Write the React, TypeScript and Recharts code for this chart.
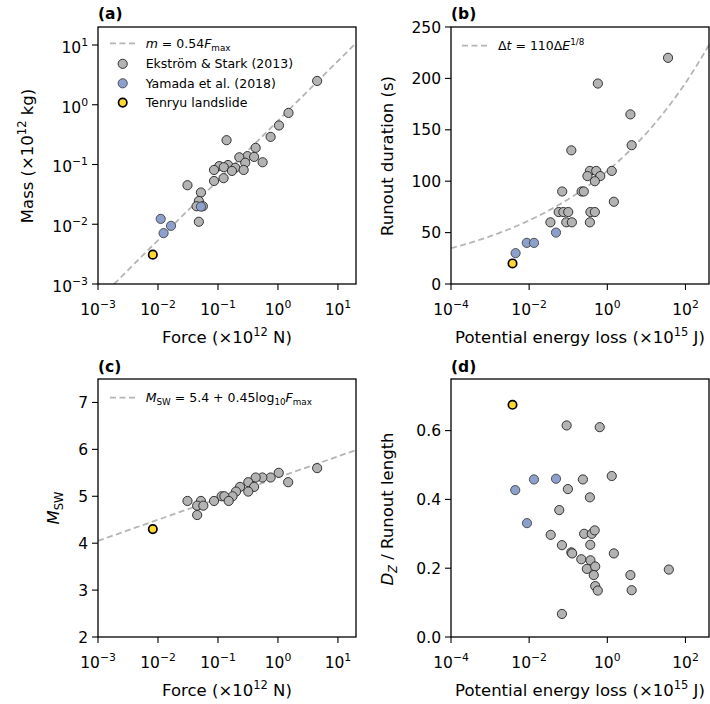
import React from "react";
import { ScatterChart, Scatter, XAxis, YAxis } from "recharts";

const FONT = "DejaVu Sans";
const GRAY = "#b3b3b3";
const BLUE = "#8da0cb";
const YELLOW = "#ffd92f";
const FIT = "#b5b5b5";

// (a) force vs mass, (c) force vs M_SW  (x 10^12 N, x 10^12 kg)
const esForceA = [4.5, 1.5, 1.04, 0.755, 0.139, 0.425, 0.31, 0.4, 0.227, 0.555, 0.285, 0.105, 0.147, 0.194, 0.125, 0.086, 0.268, 0.171, 0.124, 0.086, 0.031, 0.052, 0.048, 0.044, 0.056, 0.048];
const esMassA = [2.5, 0.73, 0.45, 0.29, 0.255, 0.19, 0.138, 0.134, 0.132, 0.109, 0.107, 0.094, 0.098, 0.088, 0.09, 0.081, 0.081, 0.078, 0.059, 0.053, 0.045, 0.034, 0.0245, 0.02, 0.02, 0.011];
const yamForceA = [0.0111, 0.0165, 0.0124, 0.052];
const yamMassA = [0.0123, 0.0094, 0.0071, 0.0197];
const tenForce = [0.0082];
const tenMass = [0.0031];

const esForceC = [4.5, 1.48, 1.03, 0.755, 0.55, 0.425, 0.32, 0.4, 0.233, 0.32, 0.2, 0.175, 0.115, 0.128, 0.151, 0.086, 0.031, 0.052, 0.045, 0.057, 0.045];
const esMswC = [5.6, 5.3, 5.5, 5.4, 5.4, 5.4, 5.3, 5.2, 5.2, 5.1, 5.1, 5.0, 5.0, 5.0, 4.9, 4.9, 4.9, 4.9, 4.8, 4.8, 4.6];
const tenMsw = [4.3];

// (b) energy vs duration, (d) energy vs Dz / runout length  (x 10^15 J)
const esEnergyB = [35.8, 0.573, 3.9, 4.2, 0.12, 1.3, 0.358, 0.52, 0.31, 0.66, 0.48, 0.07, 0.22, 0.25, 1.47, 0.057, 0.075, 0.1, 0.37, 0.48, 0.035, 0.089, 0.124, 0.358];
const esDurB = [220, 195, 165, 135, 130, 110, 110, 110, 105, 105, 100, 90, 90, 90, 80, 70, 70, 70, 70, 70, 60, 60, 60, 60];
const yamEnergyB = [0.0486, 0.0087, 0.0133, 0.0045];
const yamDurB = [50, 40, 40, 30];
const tenEnergy = [0.00375];
const tenDur = [20];

const esEnergyD = [0.091, 0.64, 1.3, 0.237, 0.098, 0.358, 0.059, 0.0356, 0.255, 0.4, 0.475, 0.366, 0.069, 0.12, 0.126, 1.47, 0.216, 0.37, 0.3, 0.49, 0.45, 0.49, 0.57, 3.9, 4.2, 37.5, 0.069];
const esRatioD = [0.615, 0.61, 0.468, 0.458, 0.43, 0.406, 0.369, 0.297, 0.3, 0.3, 0.31, 0.268, 0.267, 0.246, 0.243, 0.243, 0.226, 0.223, 0.198, 0.205, 0.18, 0.148, 0.135, 0.18, 0.136, 0.196, 0.067];
const yamEnergyD = [0.0044, 0.0133, 0.0486, 0.0088];
const yamRatioD = [0.427, 0.458, 0.46, 0.331];
const tenRatio = [0.675];

const forceTicks = [1e-3, 1e-2, 1e-1, 1, 10];
const massTicks = [1e-3, 1e-2, 1e-1, 1, 10];
const energyTicks = [1e-4, 1e-2, 1, 100];
const durTicks = [0, 50, 100, 150, 200, 250];
const mswTicks = [2, 3, 4, 5, 6, 7];
const ratioTicks = [0, 0.2, 0.4, 0.6];

const zip = (xs: number[], ys: number[]) => xs.map((x, i) => ({ x, y: ys[i] }));

// fit lines from the legend formulas
const fitA = [1e-3 / 0.54, 20].map((f) => ({ x: f, y: 0.54 * f }));
const fitB = Array.from({ length: 61 }, (_, i) => {
  const e = Math.pow(10, -4 + (i * Math.log10(4e6)) / 60);
  return { x: e, y: 110 * Math.pow(e, 1 / 8) };
});
const fitC = [1e-3, 20].map((f) => ({ x: f, y: 5.4 + 0.45 * Math.log10(f) }));

const dot = (fill: string, stroke: string, sw: number, r: number) => (p: any) =>
  <circle cx={p.cx} cy={p.cy} r={r} fill={fill} stroke={stroke} strokeWidth={sw} />;
const grayDot = dot(GRAY, "#222", 0.9, 4.6);
const blueDot = dot(BLUE, "#333", 0.8, 4.6);
const yellowDot = dot(YELLOW, "#000", 1.7, 4.2);
const noDot = () => <g />;

const expText = (v: number) => {
  const e = Math.round(Math.log10(v));
  return e < 0 ? "\u2212" + -e : String(e);
};

const LogTickX = (p: any) => (
  <text x={p.x} y={p.y + 21} textAnchor="middle" fontFamily={FONT} fontSize={15.5} fill="#000">
    <tspan>10</tspan>
    <tspan dy={-7} fontSize={10.8}>{expText(p.payload.value)}</tspan>
  </text>
);
const LogTickY = (p: any) => (
  <text x={p.x} y={p.y + 8} textAnchor="end" fontFamily={FONT} fontSize={15.5} fill="#000">
    <tspan>10</tspan>
    <tspan dy={-7} fontSize={10.8}>{expText(p.payload.value)}</tspan>
  </text>
);
const LinTickY = (digits: number) => (p: any) => (
  <text x={p.x} y={p.y + 5.5} textAnchor="end" fontFamily={FONT} fontSize={15.5} fill="#000">
    {p.payload.value.toFixed(digits)}
  </text>
);

const tickLine = { stroke: "#000", strokeWidth: 1.1 };

function Panel(props: any) {
  const { left, top, width, height, margin, yWidth, xDomain, xTicks, yDomain, yTicks, yLog, yTick, fit, gray, blue, yellow } = props;
  return (
    <div style={{ position: "absolute", left, top }}>
      <ScatterChart width={width} height={height} margin={margin}>
        <XAxis type="number" dataKey="x" scale="log" domain={xDomain} allowDataOverflow ticks={xTicks} interval={0}
          axisLine={false} tickLine={tickLine} tickSize={6} tickMargin={4} height={40} tick={LogTickX} />
        <YAxis type="number" dataKey="y" scale={yLog ? "log" : "linear"} domain={yDomain} allowDataOverflow ticks={yTicks}
          interval={0} axisLine={false} tickLine={tickLine} tickSize={6} tickMargin={4} width={yWidth}
          tick={yLog ? LogTickY : yTick} />
        {fit && (
          <Scatter data={fit} shape={noDot} isAnimationActive={false}
            line={{ stroke: FIT, strokeWidth: 1.8, strokeDasharray: "6 3.5" }} />
        )}
        <Scatter data={gray} shape={grayDot} isAnimationActive={false} />
        {blue && <Scatter data={blue} shape={blueDot} isAnimationActive={false} />}
        <Scatter data={yellow} shape={yellowDot} isAnimationActive={false} />
      </ScatterChart>
    </div>
  );
}

const txt = { fontFamily: FONT, fill: "#000" };

export default function App() {
  return (
    <div style={{ position: "absolute", left: 0, top: 0, width: 710, height: 704, background: "#fff", overflow: "hidden" }}>
      <Panel left={0} top={0} width={360} height={350} margin={{ top: 27, right: 4, left: 8, bottom: 26 }} yWidth={90}
        xDomain={[1e-3, 20]} xTicks={forceTicks} yDomain={[1e-3, 20]} yTicks={massTicks} yLog
        fit={fitA} gray={zip(esForceA, esMassA)} blue={zip(yamForceA, yamMassA)} yellow={zip(tenForce, tenMass)} />
      <Panel left={360} top={0} width={350} height={350} margin={{ top: 27, right: 1, left: 31, bottom: 26 }} yWidth={60}
        xDomain={[1e-4, 400]} xTicks={energyTicks} yDomain={[0, 250]} yTicks={durTicks} yTick={LinTickY(0)}
        fit={fitB} gray={zip(esEnergyB, esDurB)} blue={zip(yamEnergyB, yamDurB)} yellow={zip(tenEnergy, tenDur)} />
      <Panel left={0} top={350} width={360} height={354} margin={{ top: 29, right: 4, left: 8, bottom: 27 }} yWidth={90}
        xDomain={[1e-3, 20]} xTicks={forceTicks} yDomain={[2, 7.5]} yTicks={mswTicks} yTick={LinTickY(0)}
        fit={fitC} gray={zip(esForceC, esMswC)} yellow={zip(tenForce, tenMsw)} />
      <Panel left={360} top={350} width={350} height={354} margin={{ top: 29, right: 1, left: 31, bottom: 27 }} yWidth={60}
        xDomain={[1e-4, 400]} xTicks={energyTicks} yDomain={[0, 0.75]} yTicks={ratioTicks} yTick={LinTickY(1)}
        gray={zip(esEnergyD, esRatioD)} blue={zip(yamEnergyD, yamRatioD)} yellow={zip(tenEnergy, tenRatio)} />

      <svg width={710} height={704} style={{ position: "absolute", left: 0, top: 0, pointerEvents: "none" }}>
        {/* frames */}
        <rect x={98} y={27} width={258} height={257} fill="none" stroke="#000" strokeWidth={1.3} />
        <rect x={451} y={27} width={258} height={257} fill="none" stroke="#000" strokeWidth={1.3} />
        <rect x={98} y={379} width={258} height={258} fill="none" stroke="#000" strokeWidth={1.3} />
        <rect x={451} y={379} width={258} height={258} fill="none" stroke="#000" strokeWidth={1.3} />

        {/* panel letters */}
        <text x={98} y={19} fontSize={15.5} fontWeight="bold" {...txt}>(a)</text>
        <text x={451} y={19} fontSize={15.5} fontWeight="bold" {...txt}>(b)</text>
        <text x={98} y={371.5} fontSize={15.5} fontWeight="bold" {...txt}>(c)</text>
        <text x={451} y={371.5} fontSize={15.5} fontWeight="bold" {...txt}>(d)</text>

        {/* axis titles */}
        <text x={227} y={343} textAnchor="middle" fontSize={16.5} {...txt}>
          Force (×10<tspan dy={-7} fontSize={11.5}>12</tspan><tspan dy={7}> N)</tspan>
        </text>
        <text x={227} y={696} textAnchor="middle" fontSize={16.5} {...txt}>
          Force (×10<tspan dy={-7} fontSize={11.5}>12</tspan><tspan dy={7}> N)</tspan>
        </text>
        <text x={580} y={343} textAnchor="middle" fontSize={16.5} {...txt}>
          Potential energy loss (×10<tspan dy={-7} fontSize={11.5}>15</tspan><tspan dy={7}> J)</tspan>
        </text>
        <text x={580} y={696} textAnchor="middle" fontSize={16.5} {...txt}>
          Potential energy loss (×10<tspan dy={-7} fontSize={11.5}>15</tspan><tspan dy={7}> J)</tspan>
        </text>
        <text x={33} y={156} transform="rotate(-90 33 156)" textAnchor="middle" fontSize={16.5} {...txt}>
          Mass (×10<tspan dy={-7} fontSize={11.5}>12</tspan><tspan dy={7}> kg)</tspan>
        </text>
        <text x={392.5} y={156} transform="rotate(-90 392.5 156)" textAnchor="middle" fontSize={16.5} {...txt}>
          Runout duration (s)
        </text>
        <text x={59} y={508} transform="rotate(-90 59 508)" textAnchor="middle" fontSize={16.5} {...txt}>
          <tspan fontStyle="italic">M</tspan><tspan dy={4} fontSize={11.5}>SW</tspan>
        </text>
        <text x={392.5} y={509} transform="rotate(-90 392.5 509)" textAnchor="middle" fontSize={16.5} {...txt}>
          <tspan fontStyle="italic">D</tspan><tspan dy={4} fontSize={11.5} fontStyle="italic">Z</tspan>
          <tspan dy={-4}> / Runout length</tspan>
        </text>

        {/* legend (a) */}
        <line x1={110} x2={135} y1={43.3} y2={43.3} stroke={FIT} strokeWidth={1.8} strokeDasharray="6 3.5" />
        <text x={145.7} y={47.8} fontSize={12.5} {...txt}>
          <tspan fontStyle="italic">m</tspan> = 0.54<tspan fontStyle="italic">F</tspan>
          <tspan dy={3} fontSize={8.8}>max</tspan>
        </text>
        <circle cx={122.7} cy={63.8} r={4.6} fill={GRAY} stroke="#222" strokeWidth={0.9} />
        <text x={145.7} y={68.3} fontSize={12.5} {...txt}>Ekström &amp; Stark (2013)</text>
        <circle cx={122.7} cy={83.3} r={4.6} fill={BLUE} stroke="#333" strokeWidth={0.8} />
        <text x={145.7} y={87.8} fontSize={12.5} {...txt}>Yamada et al. (2018)</text>
        <circle cx={122.7} cy={102.6} r={4.2} fill={YELLOW} stroke="#000" strokeWidth={1.7} />
        <text x={145.7} y={107.1} fontSize={12.5} {...txt}>Tenryu landslide</text>

        {/* legend (b) */}
        <line x1={462} x2={488} y1={45.7} y2={45.7} stroke={FIT} strokeWidth={1.8} strokeDasharray="6 3.5" />
        <text x={498} y={50.2} fontSize={12.5} {...txt}>
          Δ<tspan fontStyle="italic">t</tspan> = 110Δ<tspan fontStyle="italic">E</tspan>
          <tspan dy={-5} fontSize={8.8}>1/8</tspan>
        </text>

        {/* legend (c) */}
        <line x1={110} x2={135} y1={397.7} y2={397.7} stroke={FIT} strokeWidth={1.8} strokeDasharray="6 3.5" />
        <text x={145.7} y={402.2} fontSize={12.5} {...txt}>
          <tspan fontStyle="italic">M</tspan><tspan dy={3} fontSize={8.8}>SW</tspan>
          <tspan dy={-3}> = 5.4 + 0.45log</tspan><tspan dy={3} fontSize={8.8}>10</tspan>
          <tspan dy={-3} fontStyle="italic">F</tspan><tspan dy={3} fontSize={8.8}>max</tspan>
        </text>
      </svg>
    </div>
  );
}
